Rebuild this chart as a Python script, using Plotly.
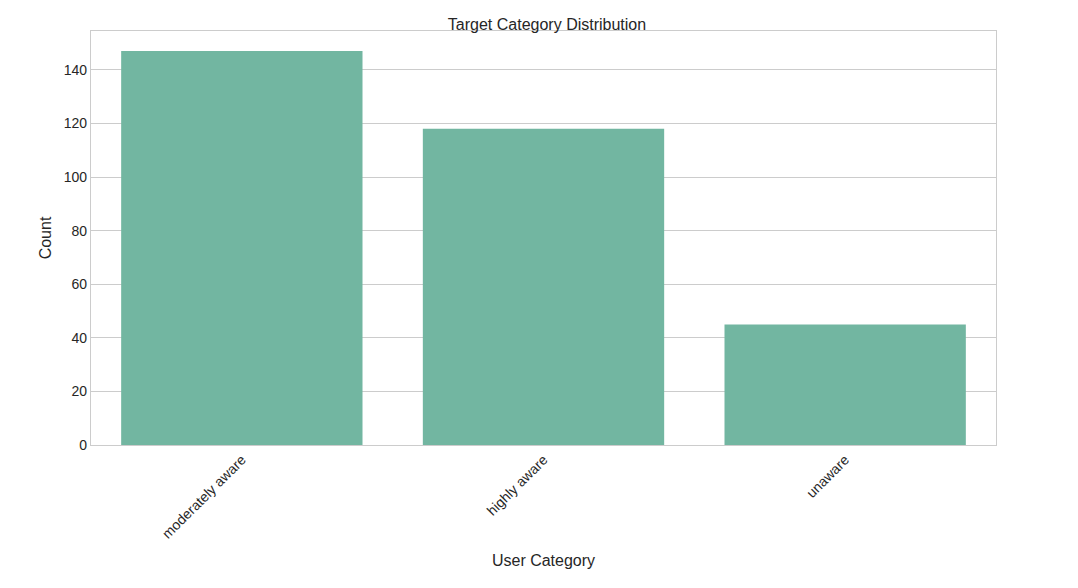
import plotly.graph_objects as go

# Data
categories = ["moderately aware", "highly aware", "unaware"]
counts = [147, 118, 45]

fig = go.Figure(go.Bar(x=categories, y=counts, marker_color="#72b6a1",
                       marker_line_width=0, width=0.8))

fig.update_layout(
    width=1078, height=588,
    margin=dict(l=83, r=90, t=23, b=151),
    plot_bgcolor="white", paper_bgcolor="white",
    font=dict(family="Liberation Sans, Arial", size=14, color="#262626"),
    title=dict(text="Target Category Distribution", x=0.5, xanchor="center",
               y=1 - 16 / 588, yanchor="middle", font=dict(size=16)),
    showlegend=False,
)
fig.update_xaxes(title_text="User Category", title_font_size=16, tickangle=-45,
                 range=[-0.5, 2.5],
                 showgrid=False, showline=True, linecolor="#cccccc", mirror=True,
                 linewidth=1.2, ticks="", title_standoff=14)
fig.update_yaxes(title_text="Count", title_font_size=16, range=[0, 154.5], dtick=20,
                 showgrid=True, gridcolor="#cccccc", gridwidth=1.2,
                 showline=True, linecolor="#cccccc", mirror=True, linewidth=1.2,
                 zeroline=False, ticks="", ticklen=6, tickcolor="white",
                 title_standoff=8)

fig.write_html("out.html")
